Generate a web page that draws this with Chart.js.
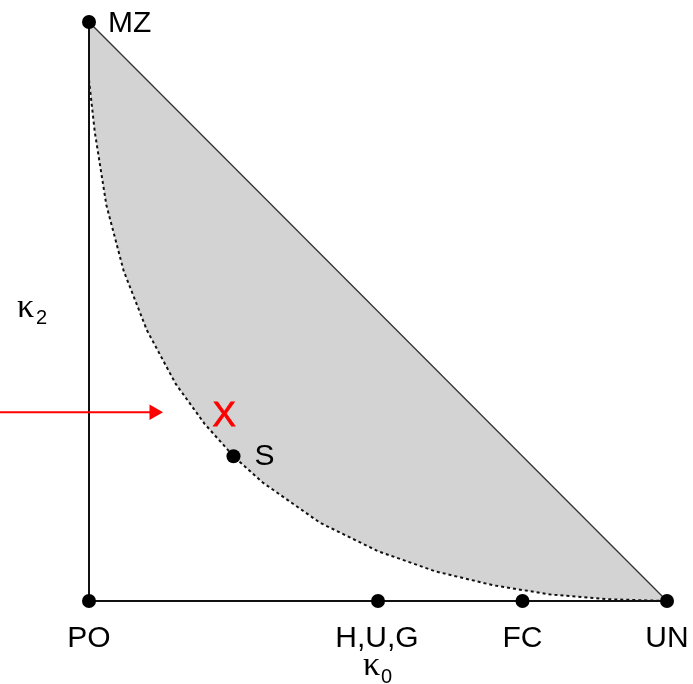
<!DOCTYPE html>
<html>
<head>
<meta charset="utf-8">
<script src="https://cdn.jsdelivr.net/npm/chart.js@4/dist/chart.umd.min.js"></script>
<style>
  html, body { margin: 0; padding: 0; background: #fff; }
  #chart { display: block; }
</style>
</head>
<body>
<canvas id="chart" width="693" height="684"></canvas>
<script>
// named relationship points (kappa0, kappa2)
var relNames = ['MZ', 'PO', 'H,U,G', 'FC', 'UN', 'S'];
var relK0 = [0, 0, 0.5, 0.75, 1, 0.25];
var relK2 = [1, 0, 0, 0, 0, 0.25];

// lower (dotted) boundary of the shaded region
var curveK0 = [0, 0.01, 0.03, 0.06, 0.1, 0.15, 0.2, 0.25, 0.3, 0.4, 0.5, 0.6, 0.7, 0.8, 0.9, 1];
var curveK2 = [0.9, 0.81, 0.684, 0.57, 0.468, 0.375, 0.306, 0.25, 0.205, 0.135, 0.086, 0.051, 0.027, 0.011, 0.003, 0];

// red marker and arrow
var markX = [0.234, 0.323];
var arrowK0 = [-0.154, 0.1125];
var arrowK2 = 0.326;

function pts(xs, ys) {
  var out = [];
  for (var i = 0; i < xs.length; i++) out.push({ x: xs[i], y: ys[i] });
  return out;
}

var labelPlugin = {
  id: 'labels',
  afterDatasetsDraw: function(chart) {
    var ctx = chart.ctx;
    var xs = chart.scales.x, ys = chart.scales.y;
    ctx.save();
    ctx.fillStyle = '#000';
    ctx.font = '30px "Liberation Sans", Arial, sans-serif';
    ctx.textBaseline = 'alphabetic';
    for (var i = 0; i < relNames.length; i++) {
      var px = xs.getPixelForValue(relK0[i]);
      var py = ys.getPixelForValue(relK2[i]);
      var name = relNames[i];
      if (name == 'MZ') {
        ctx.textAlign = 'left';
        ctx.fillText(name, px + 19, py + 10);
      } else if (name == 'S') {
        ctx.textAlign = 'left';
        ctx.fillText(name, px + 21, py + 9);
      } else {
        ctx.textAlign = 'center';
        ctx.fillText(name, px + (name == 'H,U,G' ? -1 : 0), py + 46);
      }
    }
    // red X
    ctx.fillStyle = '#ff0000';
    ctx.font = '35px "Liberation Sans", Arial, sans-serif';
    ctx.textAlign = 'center';
    ctx.lineWidth = 0.8;
    ctx.strokeStyle = '#ff0000';
    var mx = xs.getPixelForValue(markX[0]), my = ys.getPixelForValue(markX[1]) + 12;
    ctx.fillText('X', mx, my);
    ctx.strokeText('X', mx, my);

    // axis titles
    var area = chart.chartArea;
    ctx.fillStyle = '#000';
    ctx.textAlign = 'left';
    var kx = (area.left + area.right) / 2 - 15;
    ctx.font = '34px "Liberation Serif", serif';
    ctx.fillText('\u03BA', kx, area.bottom + 74);
    ctx.font = '20px "Liberation Sans", Arial, sans-serif';
    ctx.fillText('0', kx + 18, area.bottom + 82);
    var ky = (area.top + area.bottom) / 2 + 5;
    ctx.font = '34px "Liberation Serif", serif';
    ctx.fillText('\u03BA', 17, ky);
    ctx.font = '20px "Liberation Sans", Arial, sans-serif';
    ctx.fillText('2', 36, ky + 7);
    ctx.restore();
  }
};

new Chart(document.getElementById('chart').getContext('2d'), {
  type: 'scatter',
  data: {
    datasets: [
      {
        // upper diagonal MZ - UN
        data: pts([0, 1], [1, 0]),
        showLine: true,
        borderColor: '#333',
        borderWidth: 1.3,
        pointRadius: 0,
        order: 3,
        clip: false
      },
      {
        // dotted lower boundary, shaded up to the diagonal
        data: pts(curveK0, curveK2),
        showLine: true,
        borderColor: '#111',
        borderWidth: 2,
        borderDash: [3, 3],
        pointRadius: 0,
        tension: 0,
        fill: 0,
        backgroundColor: '#d3d3d3',
        order: 4,
        clip: false
      },
      {
        // the two axes
        data: pts([0, 0, 1], [1, 0, 0]),
        showLine: true,
        borderColor: '#111',
        borderWidth: 2,
        pointRadius: 0,
        order: 2,
        clip: false
      },
      {
        data: pts(relK0, relK2),
        pointRadius: 7,
        pointBackgroundColor: '#000',
        pointBorderWidth: 0,
        order: 0,
        clip: false
      },
      {
        // red arrow
        data: pts(arrowK0, [arrowK2, arrowK2]),
        showLine: true,
        borderColor: '#ff0000',
        borderWidth: 2,
        pointStyle: 'triangle',
        pointRotation: 90,
        pointRadius: [0, 9],
        pointBackgroundColor: '#ff0000',
        pointBorderWidth: 0,
        order: 1,
        clip: false
      }
    ]
  },
  options: {
    responsive: false,
    animation: false,
    layout: { padding: { left: 89, right: 26, top: 22, bottom: 83 } },
    plugins: { legend: { display: false }, tooltip: { enabled: false } },
    scales: {
      x: { type: 'linear', min: 0, max: 1, display: false },
      y: { type: 'linear', min: 0, max: 1, display: false }
    }
  },
  plugins: [labelPlugin]
});
</script>
</body>
</html>
